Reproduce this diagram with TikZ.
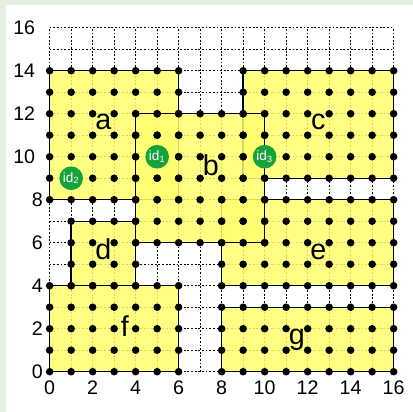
\documentclass[tikz,border=0pt]{standalone}
\usepackage{fontspec}
\setmainfont{Liberation Sans}
\definecolor{idgreen}{RGB}{22,163,60}
\definecolor{panelgreen}{RGB}{228,239,226}
\definecolor{regionyellow}{RGB}{255,255,110}
\begin{document}
\begin{tikzpicture}[x=0.5cm,y=0.5cm,
        region/.style={draw=black, line width=0.9pt, fill=regionyellow, fill opacity=0.85},
        gridline/.style={line width=0.4pt, dash pattern=on 1.2pt off 1.2pt},
        idmark/.style={circle, fill=idgreen, text=white, minimum size=0.55cm, inner sep=0pt, font=\fontsize{9}{9}\selectfont},
        letter/.style={inner sep=0pt, font=\fontsize{19}{19}\selectfont},
        tick/.style={inner sep=0pt, font=\fontsize{13}{13}\selectfont}]
        \fill[panelgreen] (-2.31,-1.87) rectangle (16.9,17.29);
        \fill[white] (-2.03,-1.87) rectangle (16.9,17.06);
        \useasboundingbox (-2.31,-1.87) rectangle (16.9,17.29);
        % dotted grid
        \foreach \i in {0,...,16} {
            \draw[gridline] (\i,0) -- (\i,16);
            \draw[gridline] (0,\i) -- (16,\i);
        }
        % regions a, c, d, e, f, g, then b on top
        \foreach \xa/\ya/\xb/\yb in {0/8/6/14, 9/9/16/14, 1/4/4/7, 8/4/16/8, 0/0/6/4, 8/0/16/3, 4/6/10/12}
            \draw[region] (\xa,\ya) rectangle (\xb,\yb);
        % lattice points
        \foreach \xa/\ya/\xb/\yb in {0/8/6/14, 9/9/16/14, 1/4/4/7, 8/4/16/8, 0/0/6/4, 8/0/16/3, 4/6/10/12} {
            \foreach \x in {\xa,...,\xb}
                \foreach \y in {\ya,...,\yb}
                    \fill (\x,\y) circle (2.5pt);
        }
        % axis numbers
        \foreach \v/\p in {0/-0.3, 2/-0.3, 4/-0.3, 6/-0.3, 8/-0.3, 10/-0.66, 12/-0.66, 14/-0.66, 16/-0.66} {
            \node[tick, anchor=east] (ylab\v) at (\p,\v) {\v};
            \node[tick, anchor=north] (xlab\v) at (\v,-0.4) {\v};
        }
        % region names
        \node[letter] (na) at (2.5,11.6) {a};
        \node[letter] (nb) at (7.5,9.6) {b};
        \node[letter] (nc) at (12.5,11.6) {c};
        \node[letter] (nd) at (2.5,5.7) {d};
        \node[letter] (ne) at (12.5,5.55) {e};
        \node[letter] (nf) at (3.5,2.1) {f};
        \node[letter] (ng) at (11.5,1.5) {g};
        % ids
        \node[idmark] (id1) at (5,10) {id\textsubscript{1}};
        \node[idmark] (id2) at (1,9) {id\textsubscript{2}};
        \node[idmark] (id3) at (10,10) {id\textsubscript{3}};
    \end{tikzpicture}
\end{document}
